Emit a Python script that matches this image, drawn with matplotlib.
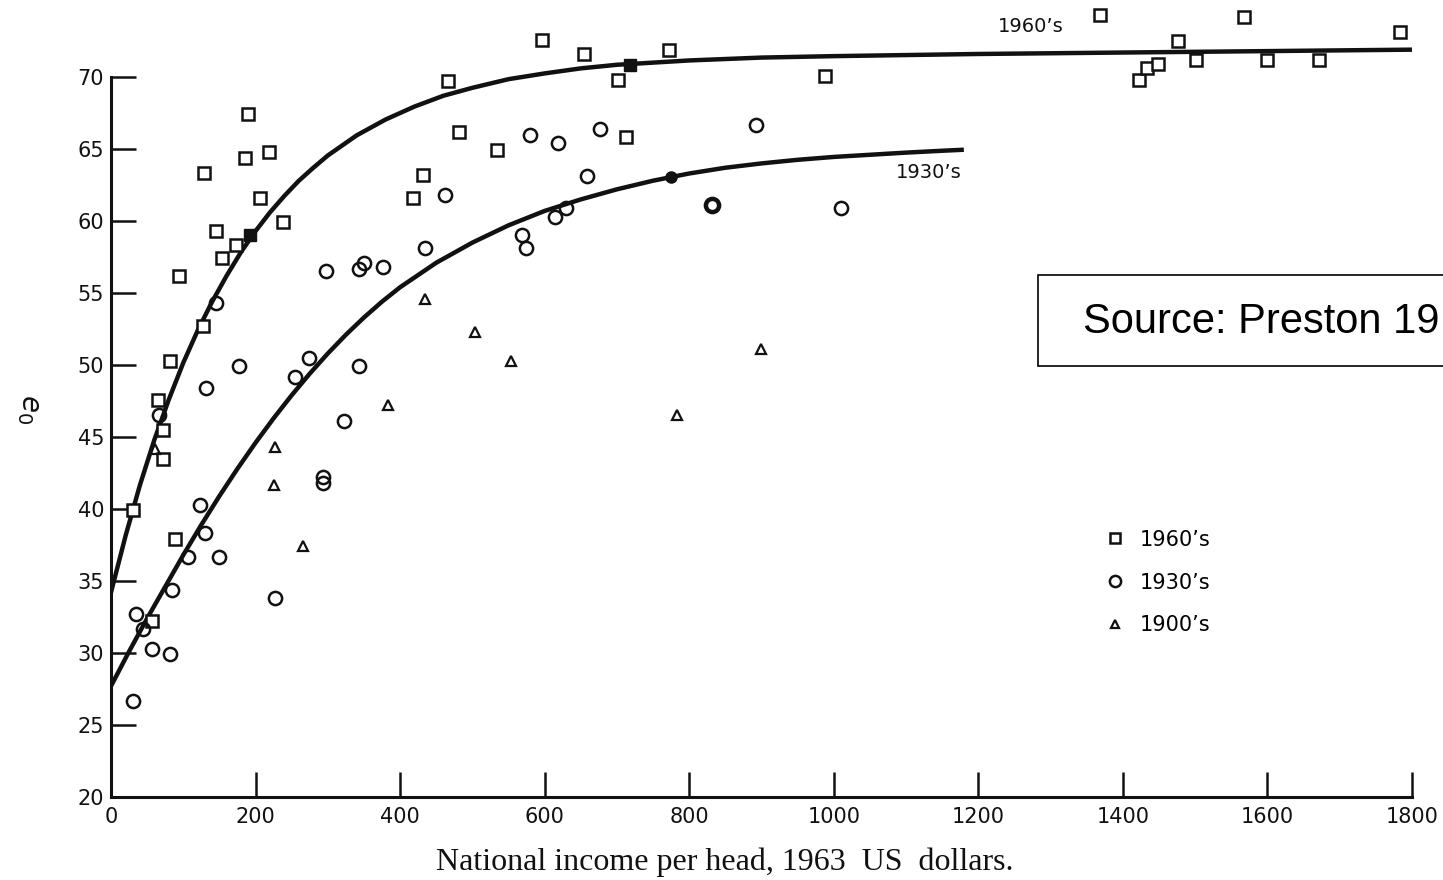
import matplotlib
matplotlib.use("Agg")
import matplotlib.pyplot as plt
from matplotlib.patches import Rectangle

# 1960's observations (income per head, life expectancy)
sixties_x = [31, 57, 65, 72, 72, 82, 88, 94, 128, 129, 145, 153, 173, 186, 190, 206, 218, 238,
             418, 432, 466, 482, 534, 596, 655, 701, 713, 772, 988,
             1369, 1422, 1434, 1449, 1476, 1501, 1567, 1599, 1671, 1783]
sixties_y = [39.9, 32.2, 47.6, 45.5, 43.5, 50.3, 37.9, 56.2, 52.7, 63.3, 59.3, 57.4, 58.3, 64.4, 67.4, 61.6, 64.8, 59.9,
             61.6, 63.2, 69.7, 66.2, 64.9, 72.6, 71.6, 69.8, 65.8, 71.9, 70.1,
             74.3, 69.8, 70.6, 70.9, 72.5, 71.2, 74.2, 71.2, 71.2, 73.1]
sixties_on_curve_x = [193, 718]
sixties_on_curve_y = [59.0, 70.8]

# 1930's observations
thirties_x = [31, 35, 44, 57, 67, 81, 85, 106, 123, 130, 132, 146, 149, 177, 227, 254, 274, 293, 293,
              298, 323, 343, 343, 350, 376, 434, 462, 569, 574, 580, 615, 618, 629, 658, 677, 892, 1010]
thirties_y = [26.7, 32.7, 31.7, 30.3, 46.5, 29.9, 34.4, 36.7, 40.3, 38.3, 48.4, 54.3, 36.7, 49.9, 33.8, 49.2, 50.5, 42.2, 41.8,
              56.5, 46.1, 56.7, 49.9, 57.1, 56.8, 58.1, 61.8, 59.0, 58.1, 66.0, 60.3, 65.4, 60.9, 63.1, 66.4, 66.7, 60.9]
thirties_bold_x = [831]
thirties_bold_y = [61.1]
thirties_on_curve_x = [775]
thirties_on_curve_y = [63.05]

# 1900's observations
nineteen_x = [61, 225, 227, 265, 383, 434, 504, 553, 783, 900]
nineteen_y = [44.2, 41.7, 44.3, 37.4, 47.2, 54.6, 52.3, 50.3, 46.5, 51.1]

# fitted curves as drawn in the figure
curve60_x = [0, 20, 40, 60, 80, 100, 120, 140, 160, 180, 200, 220, 240, 260, 280, 300,
             340, 380, 420, 460, 500, 550, 600, 650, 700, 750, 800, 900, 1000, 1200, 1400, 1600, 1800]
curve60_y = [34.2, 38.1, 41.65, 44.8, 47.6, 50.15, 52.4, 54.4, 56.2, 57.85, 59.3, 60.6, 61.75, 62.8, 63.7, 64.55,
             65.95, 67.05, 67.95, 68.7, 69.25, 69.85, 70.25, 70.6, 70.85, 71.0, 71.15, 71.35, 71.45, 71.6, 71.7, 71.8, 71.9]
curve30_x = [0, 25, 50, 75, 100, 125, 150, 175, 200, 225, 250, 275, 300, 325, 350, 375, 400,
             450, 500, 550, 600, 650, 700, 750, 800, 850, 900, 950, 1000, 1050, 1100, 1150, 1180]
curve30_y = [27.7, 30.1, 32.4, 34.6, 36.8, 38.9, 40.9, 42.8, 44.6, 46.3, 47.9, 49.4, 50.8, 52.1, 53.3, 54.4, 55.4,
             57.1, 58.5, 59.7, 60.7, 61.5, 62.2, 62.8, 63.3, 63.7, 64.0, 64.25, 64.45, 64.6, 64.75, 64.88, 64.95]

x_ticks = [0, 200, 400, 600, 800, 1000, 1200, 1400, 1600, 1800]
y_ticks = [20, 25, 30, 35, 40, 45, 50, 55, 60, 65, 70]

INK = "#111111"

fig = plt.figure(figsize=(14.43, 8.8), dpi=100)
ax = fig.add_axes([0.0769, 0.0943, 0.9016, 0.9000])

ax.plot(curve60_x, curve60_y, color=INK, lw=3.2, solid_capstyle="butt", solid_joinstyle="round")
ax.plot(curve30_x, curve30_y, color=INK, lw=3.2, solid_capstyle="butt", solid_joinstyle="round")

sq = ax.plot(sixties_x, sixties_y, ls="none", marker="s", ms=8, mfc="white", mec=INK, mew=1.8,
             clip_on=False, label="1960’s")[0]
ax.plot(sixties_on_curve_x, sixties_on_curve_y, ls="none", marker="s", ms=8, mfc=INK, mec=INK, clip_on=False)
ci = ax.plot(thirties_x, thirties_y, ls="none", marker="o", ms=9.5, mfc="none", mec=INK, mew=1.8,
             clip_on=False, label="1930’s")[0]
ax.plot(thirties_bold_x, thirties_bold_y, ls="none", marker="o", ms=9.5, mfc="none", mec=INK, mew=3.2)
ax.plot(thirties_on_curve_x, thirties_on_curve_y, ls="none", marker="o", ms=8, mfc=INK, mec=INK)
tr = ax.plot(nineteen_x, nineteen_y, ls="none", marker="^", ms=7, mfc="none", mec=INK, mew=1.6,
             clip_on=False, label="1900’s")[0]

ax.set_xlim(0, 1800)
ax.set_ylim(20, 75)
ax.set_xticks(x_ticks)
ax.set_yticks(y_ticks)
for side in ("top", "right"):
    ax.spines[side].set_visible(False)
ax.spines["left"].set_bounds(20, 70)
ax.spines["bottom"].set_bounds(0, 1800)
for side in ("left", "bottom"):
    ax.spines[side].set_linewidth(2.2)
    ax.spines[side].set_color(INK)
ax.tick_params(direction="in", length=18, width=1.8, colors=INK, labelsize=15, pad=5)
ax.tick_params(axis="x", pad=7)

ax.text(1273, 73.5, "1960’s", ha="center", va="center", fontsize=14, color=INK)
ax.text(1131, 63.4, "1930’s", ha="center", va="center", fontsize=14, color=INK)

ax.legend(handles=[sq, ci, tr], loc="upper left", bbox_to_anchor=(0.758, 0.410),
          bbox_transform=fig.transFigure, frameon=False, fontsize=15, borderpad=0,
          handlelength=1.0, handletextpad=0.7, labelspacing=1.1, markerscale=0.85)

fig.text(0.020, 0.535, r"$e_0$", rotation=270, ha="center", va="center", fontsize=20, color=INK)
fig.text(0.5024, 0.0205, "National income per head, 1963  US  dollars.", ha="center", va="center",
         fontsize=23, family="Liberation Serif", color=INK)

fig.patches.append(Rectangle((0.7193, 0.584), 0.40, 0.1034, transform=fig.transFigure,
                             facecolor="white", edgecolor="black", lw=1.2, clip_on=False))
fig.text(0.7505, 0.634, "Source: Preston 19", ha="left", va="center", fontsize=30,
         family="Liberation Sans", color="black")

fig.savefig("out.png", dpi=100)
